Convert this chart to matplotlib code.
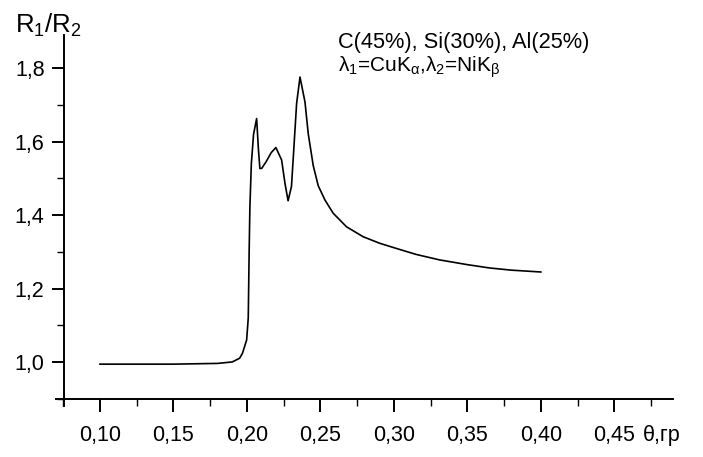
import matplotlib
matplotlib.use("Agg")
import matplotlib.pyplot as plt
from matplotlib.ticker import MultipleLocator, FuncFormatter

plt.rcParams['font.family'] = ['Liberation Sans', 'DejaVu Sans']
plt.rcParams['mathtext.fontset'] = 'custom'
plt.rcParams['mathtext.rm'] = 'Liberation Sans'
plt.rcParams['mathtext.it'] = 'Liberation Sans'
plt.rcParams['mathtext.default'] = 'rm'

# значения
theta = [0.10, 0.15, 0.18, 0.190, 0.195, 0.197, 0.1998, 0.2009, 0.2015,
         0.202, 0.203, 0.2045, 0.2066, 0.2078, 0.2088, 0.210, 0.213, 0.2165,
         0.2197, 0.2236, 0.2259, 0.228, 0.2303, 0.232, 0.2338, 0.2361,
         0.2395, 0.2417, 0.2451, 0.2485, 0.2531, 0.2587, 0.2678, 0.2791,
         0.2905, 0.3018, 0.315, 0.331, 0.35, 0.365, 0.38, 0.40]
ratio = [0.994, 0.994, 0.996, 1.000, 1.010, 1.024, 1.060, 1.120, 1.30,
         1.42, 1.54, 1.62, 1.663, 1.58, 1.527, 1.527, 1.545, 1.57,
         1.584, 1.55, 1.486, 1.439, 1.478, 1.587, 1.704, 1.776,
         1.708, 1.622, 1.535, 1.480, 1.441, 1.405, 1.368, 1.341,
         1.323, 1.309, 1.293, 1.278, 1.265, 1.256, 1.250, 1.245]

x_ticks = [0.10, 0.15, 0.20, 0.25, 0.30, 0.35, 0.40, 0.45]
y_ticks = [1.0, 1.2, 1.4, 1.6, 1.8]

fig = plt.figure(figsize=(7.03, 4.57), dpi=100)
ax = fig.add_axes([0.0795, 0.1116, 0.878, 0.8114])

ax.plot(theta, ratio, color='black', linewidth=1.2)

# оси пересекаются крестом, как в оригинале
ax.spines['left'].set_position(('data', 0.0755))
ax.spines['bottom'].set_position(('data', 0.90))
ax.spines['top'].set_visible(False)
ax.spines['right'].set_visible(False)
ax.spines['left'].set_linewidth(1.4)
ax.spines['bottom'].set_linewidth(1.4)

ax.set_xticks(x_ticks)
ax.set_yticks(y_ticks)
ax.xaxis.set_minor_locator(MultipleLocator(0.025))
ax.yaxis.set_minor_locator(MultipleLocator(0.1))
ax.set_xlim(0.070, 0.49)
ax.set_ylim(0.88, 1.89)
comma = lambda fmt: FuncFormatter(lambda v, p: format(v, fmt).replace('.', ','))
ax.xaxis.set_major_formatter(comma('.2f'))
ax.yaxis.set_major_formatter(comma('.1f'))
ax.tick_params(which='major', direction='out', length=10, width=1.4, labelsize=15.5)
ax.tick_params(axis='x', which='major', length=9, pad=10)
ax.tick_params(axis='y', which='major', length=9, pad=5)
ax.tick_params(which='minor', direction='out', length=5, width=1.0)

fig.text(0.021, 0.928, r'R$_1$/R$_2$', fontsize=18.5, va='baseline')
fig.text(0.914, 0.034, 'θ,гр', fontsize=15.5, va='baseline')
fig.text(0.481, 0.895, 'C(45%), Si(30%), Al(25%)', fontsize=15.7, va='baseline')
fig.text(0.481, 0.843, r'λ$_1$=CuK$_α$,λ$_2$=NiK$_β$', fontsize=15, va='baseline')

fig.savefig('out.png', dpi=100)
